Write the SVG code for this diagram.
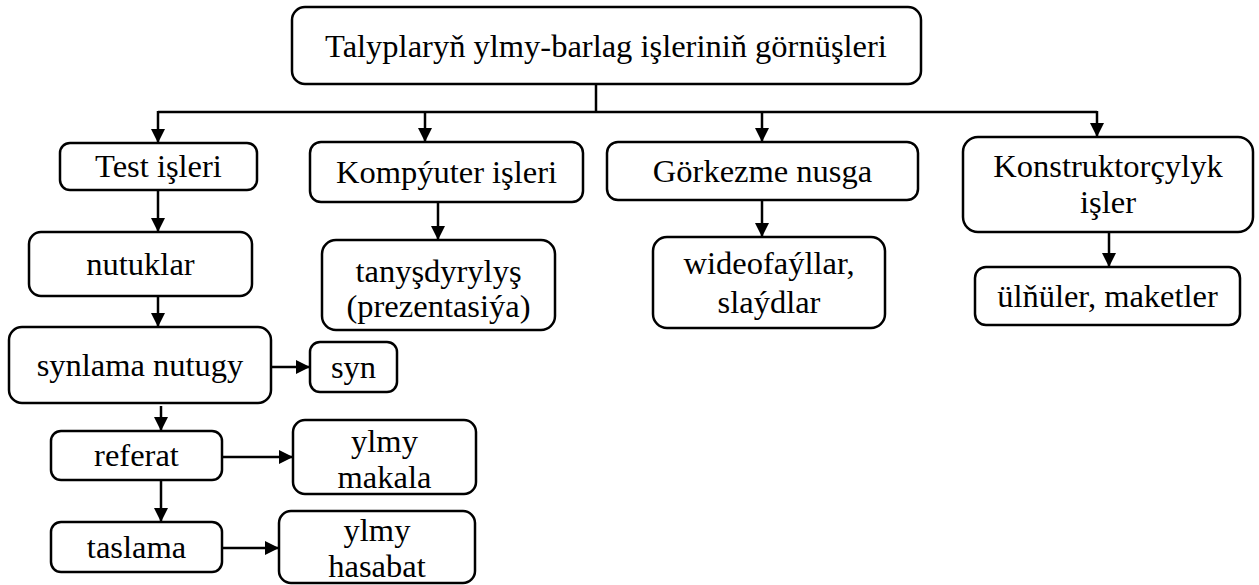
<svg xmlns="http://www.w3.org/2000/svg" width="1259" height="585" viewBox="0 0 1259 585">
<defs>
<marker id="ah" markerUnits="userSpaceOnUse" markerWidth="14" markerHeight="16" viewBox="0 0 14 16" refX="14" refY="8" orient="auto">
<path d="M0,1 L14,8 L0,15 Z" fill="#000"/>
</marker>
</defs>
<rect width="1259" height="585" fill="#fff"/>
<g id="connectors" fill="none" stroke="#000" stroke-width="2.5">
<polyline points="596,84 596,112"/>
<polyline points="158,112 1097,112"/>
<line x1="158" y1="111" x2="158" y2="143" marker-end="url(#ah)"/>
<line x1="425" y1="112" x2="425" y2="142" marker-end="url(#ah)"/>
<line x1="762" y1="112" x2="762" y2="142" marker-end="url(#ah)"/>
<line x1="1097" y1="111" x2="1097" y2="137" marker-end="url(#ah)"/>
<line x1="158" y1="190" x2="158" y2="232" marker-end="url(#ah)"/>
<line x1="158" y1="296" x2="158" y2="327" marker-end="url(#ah)"/>
<line x1="161" y1="406" x2="161" y2="431" marker-end="url(#ah)"/>
<line x1="161" y1="480" x2="161" y2="522" marker-end="url(#ah)"/>
<line x1="271" y1="367" x2="310" y2="367" marker-end="url(#ah)"/>
<line x1="222" y1="457" x2="293" y2="457" marker-end="url(#ah)"/>
<line x1="222" y1="548" x2="279" y2="548" marker-end="url(#ah)"/>
<line x1="438" y1="202" x2="438" y2="240" marker-end="url(#ah)"/>
<line x1="762" y1="200" x2="762" y2="237" marker-end="url(#ah)"/>
<line x1="1109" y1="232" x2="1109" y2="267" marker-end="url(#ah)"/>
</g>
<g id="nodes" fill="#fff" stroke="#000" stroke-width="2.5">
<g id="root"><rect x="292" y="7" width="629" height="77" rx="13"/><text style="font-family:'Liberation Serif',serif;font-size:32.5px" fill="#000" stroke="none" text-anchor="middle" x="606" y="57">Talyplaryň ylmy-barlag işleriniň görnüşleri</text></g>
<g id="test"><rect x="60" y="143" width="197" height="47" rx="10"/><text style="font-family:'Liberation Serif',serif;font-size:32.5px" fill="#000" stroke="none" text-anchor="middle" x="158.5" y="177">Test işleri</text></g>
<g id="nutuklar"><rect x="29" y="232" width="223" height="64" rx="12"/><text style="font-family:'Liberation Serif',serif;font-size:32.5px" fill="#000" stroke="none" text-anchor="middle" x="140.5" y="275">nutuklar</text></g>
<g id="synlama"><rect x="9" y="327" width="262" height="76" rx="13"/><text style="font-family:'Liberation Serif',serif;font-size:32.5px" fill="#000" stroke="none" text-anchor="middle" x="140" y="376">synlama nutugy</text></g>
<g id="syn"><rect x="310" y="342" width="87" height="50" rx="10"/><text style="font-family:'Liberation Serif',serif;font-size:32.5px" fill="#000" stroke="none" text-anchor="middle" x="353.5" y="378">syn</text></g>
<g id="referat"><rect x="51" y="431" width="171" height="49" rx="10"/><text style="font-family:'Liberation Serif',serif;font-size:32.5px" fill="#000" stroke="none" text-anchor="middle" x="136.5" y="466">referat</text></g>
<g id="makala"><rect x="293" y="420" width="183" height="74" rx="12"/><text style="font-family:'Liberation Serif',serif;font-size:32.5px" fill="#000" stroke="none" text-anchor="middle" x="384.5" y="452">ylmy</text><text style="font-family:'Liberation Serif',serif;font-size:32.5px" fill="#000" stroke="none" text-anchor="middle" x="384.5" y="488">makala</text></g>
<g id="taslama"><rect x="51" y="522" width="171" height="50" rx="10"/><text style="font-family:'Liberation Serif',serif;font-size:32.5px" fill="#000" stroke="none" text-anchor="middle" x="136.5" y="558">taslama</text></g>
<g id="hasabat"><rect x="279" y="511" width="196" height="72" rx="12"/><text style="font-family:'Liberation Serif',serif;font-size:32.5px" fill="#000" stroke="none" text-anchor="middle" x="377" y="541">ylmy</text><text style="font-family:'Liberation Serif',serif;font-size:32.5px" fill="#000" stroke="none" text-anchor="middle" x="377" y="577">hasabat</text></g>
<g id="kompyuter"><rect x="310" y="142" width="273" height="60" rx="11"/><text style="font-family:'Liberation Serif',serif;font-size:32.5px" fill="#000" stroke="none" text-anchor="middle" x="446.5" y="183">Kompýuter işleri</text></g>
<g id="tanysdyrylys"><rect x="322" y="240" width="233" height="90" rx="14"/><text style="font-family:'Liberation Serif',serif;font-size:32.5px" fill="#000" stroke="none" text-anchor="middle" x="438.5" y="282">tanyşdyrylyş</text><text style="font-family:'Liberation Serif',serif;font-size:32.5px" fill="#000" stroke="none" text-anchor="middle" x="438.5" y="317">(prezentasiýa)</text></g>
<g id="gorkezme"><rect x="607" y="142" width="311" height="58" rx="11"/><text style="font-family:'Liberation Serif',serif;font-size:32.5px" fill="#000" stroke="none" text-anchor="middle" x="762.5" y="182">Görkezme nusga</text></g>
<g id="wideo"><rect x="653" y="237" width="232" height="91" rx="14"/><text style="font-family:'Liberation Serif',serif;font-size:32.5px" fill="#000" stroke="none" text-anchor="middle" x="769" y="274">wideofaýllar,</text><text style="font-family:'Liberation Serif',serif;font-size:32.5px" fill="#000" stroke="none" text-anchor="middle" x="769" y="313">slaýdlar</text></g>
<g id="konstruktor"><rect x="963" y="137" width="290" height="95" rx="15"/><text style="font-family:'Liberation Serif',serif;font-size:32.5px" fill="#000" stroke="none" text-anchor="middle" x="1108" y="177">Konstruktorçylyk</text><text style="font-family:'Liberation Serif',serif;font-size:32.5px" fill="#000" stroke="none" text-anchor="middle" x="1108" y="213">işler</text></g>
<g id="ulnuler"><rect x="975" y="267" width="265" height="58" rx="11"/><text style="font-family:'Liberation Serif',serif;font-size:32.5px" fill="#000" stroke="none" text-anchor="middle" x="1107.5" y="307">ülňüler, maketler</text></g>
</g>
</svg>
